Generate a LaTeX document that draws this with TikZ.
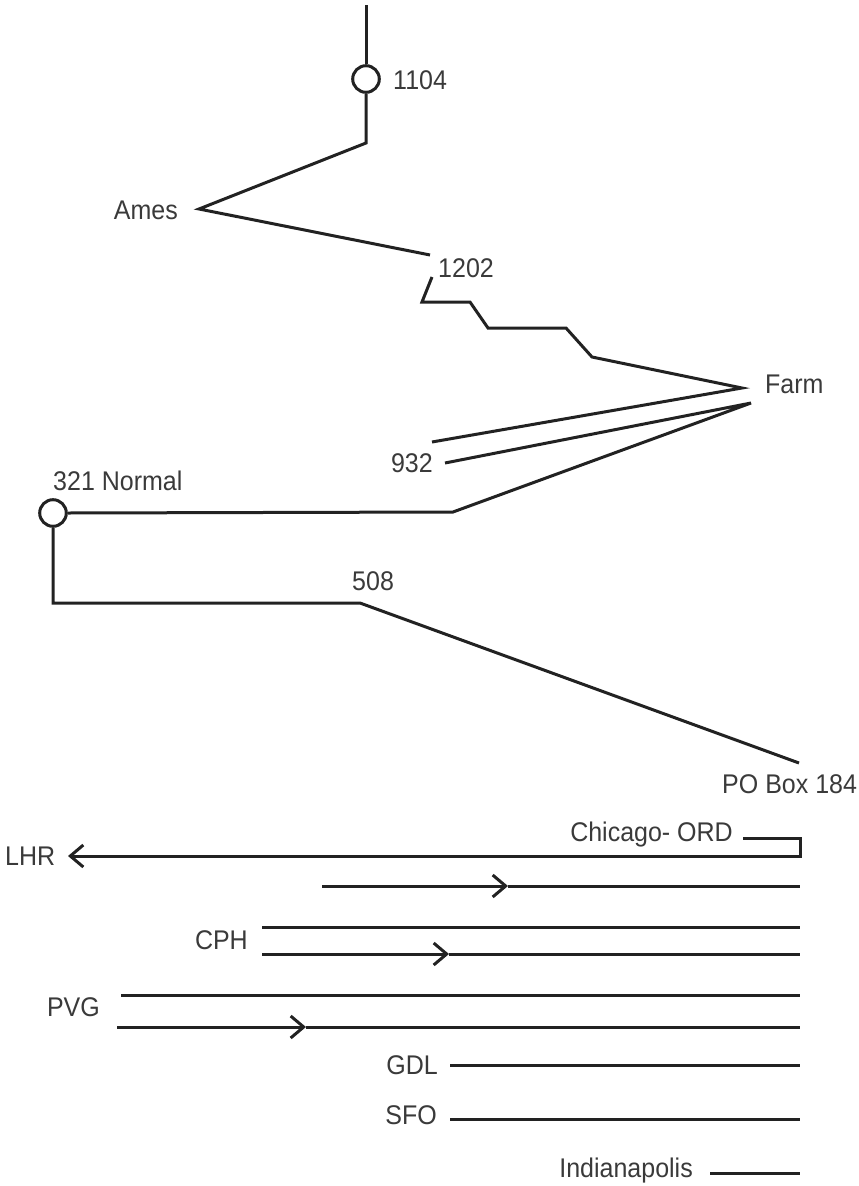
\documentclass[tikz,border=0pt]{standalone}
\usepackage{fontspec}
\setmainfont{Liberation Sans}
\usetikzlibrary{arrows.meta}
\definecolor{ink}{HTML}{222222}
\definecolor{txt}{HTML}{3A3A3A}
\newcommand{\tall}[1]{\scalebox{1}[1.08]{#1}}
\tikzset{
  wire/.style={draw=ink, line width=3pt, line join=miter},
  stop/.style={circle, draw=ink, line width=3pt, fill=white, minimum size=26.6pt, inner sep=0pt},
  lbl/.style={text=txt, font=\fontsize{25}{25}\selectfont, inner sep=0pt},
  tip/.style={-{Straight Barb[length=13pt,width=22pt,line width=3pt]}}
}
\begin{document}
\begin{tikzpicture}[x=1pt,y=-1pt]
\useasboundingbox (0,0) rectangle (859,1186);

% ---------- route network ----------
\coordinate (top) at (366,5);
\node[stop] (s1104) at (366,79) {};
\node[lbl, anchor=base west] (l1104) at (393,89) {\tall{1104}};
\coordinate (k1) at (366,143);
\coordinate (ames) at (199,209);
\node[lbl, anchor=base east] (lames) at (178,219) {\tall{Ames}};
\coordinate (a1202) at (430,255);
\node[lbl, anchor=base west] (l1202) at (438,277) {\tall{1202}};
\coordinate (b1202) at (432,277);
\coordinate (z1) at (422,302);
\coordinate (z2) at (470,302);
\coordinate (z3) at (488,328);
\coordinate (z4) at (566,328);
\coordinate (z5) at (592,357);
\coordinate (farmA) at (742,388);
\coordinate (farmB) at (751,403);
\node[lbl, anchor=base west] (lfarm) at (765,393) {\tall{Farm}};
\coordinate (e932a) at (432,442);
\coordinate (e932b) at (445,463);
\node[lbl, anchor=base east] (l932) at (433,472) {\tall{932}};
\coordinate (n1) at (453,512);
\node[stop] (s321) at (53,513) {};
\node[lbl, anchor=base west] (l321) at (53,490) {\tall{321 Normal}};
\coordinate (d1) at (53,603);
\coordinate (d2) at (360,603);
\node[lbl, anchor=base west] (l508) at (352,590) {\tall{508}};
\coordinate (po) at (799,763);
\node[lbl, anchor=base west] (lpo) at (722,793) {\tall{PO Box 184}};

\draw[wire] (top) -- (s1104.north);
\draw[wire] (s1104.south) -- (k1) -- (ames) -- (a1202);
\draw[wire] (b1202) -- (z1) -- (z2) -- (z3) -- (z4) -- (z5) -- (farmA) -- (e932a);
\draw[wire] (e932b) -- (farmB) -- (n1) -- (s321.east);
\draw[wire] (s321.south) -- (d1) -- (d2) -- (po);

% ---------- flight lines ----------
\node[lbl, anchor=base east] (lord) at (733,841) {\tall{Chicago- ORD}};
\node[lbl, anchor=base west] (llhr) at (5,865) {\tall{LHR}};
\coordinate (o1) at (743,838);
\coordinate (o2) at (800,838);
\coordinate (o3) at (800,856);
\coordinate (lhr) at (68,856);
\draw[wire, tip] (o1) -- (o2) -- (o3) -- (lhr);

\coordinate (r2a) at (322,886);
\coordinate (r2m) at (508,886);
\coordinate (r2b) at (800,886);
\draw[wire, tip] (r2a) -- (r2m);
\draw[wire] (r2m) -- (r2b);

\node[lbl, anchor=base east] (lcph) at (248,949) {\tall{CPH}};
\coordinate (c1a) at (262,927);
\coordinate (c1b) at (800,927);
\draw[wire] (c1a) -- (c1b);
\coordinate (c2a) at (262,954);
\coordinate (c2m) at (449,954);
\coordinate (c2b) at (800,954);
\draw[wire, tip] (c2a) -- (c2m);
\draw[wire] (c2m) -- (c2b);

\node[lbl, anchor=base east] (lpvg) at (100,1016) {\tall{PVG}};
\coordinate (p1a) at (121,995);
\coordinate (p1b) at (800,995);
\draw[wire] (p1a) -- (p1b);
\coordinate (p2a) at (117,1027);
\coordinate (p2m) at (306,1027);
\coordinate (p2b) at (800,1027);
\draw[wire, tip] (p2a) -- (p2m);
\draw[wire] (p2m) -- (p2b);

\node[lbl, anchor=base east] (lgdl) at (438,1074) {\tall{GDL}};
\coordinate (g1) at (450,1065);
\coordinate (g2) at (800,1065);
\draw[wire] (g1) -- (g2);

\node[lbl, anchor=base east] (lsfo) at (437,1124) {\tall{SFO}};
\coordinate (f1) at (450,1119);
\coordinate (f2) at (800,1119);
\draw[wire] (f1) -- (f2);

\node[lbl, anchor=base east] (lind) at (693,1177) {\tall{Indianapolis}};
\coordinate (i1) at (710,1173);
\coordinate (i2) at (800,1173);
\draw[wire] (i1) -- (i2);
\end{tikzpicture}
\end{document}
